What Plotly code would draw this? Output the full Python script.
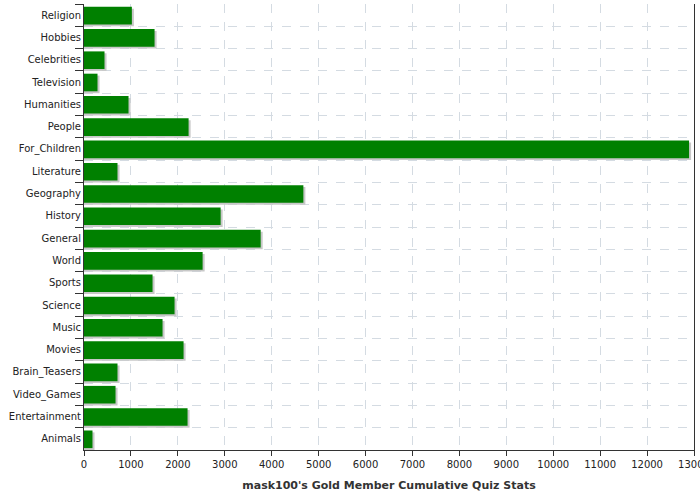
import plotly.graph_objects as go

categories = ["Religion", "Hobbies", "Celebrities", "Television", "Humanities", "People",
              "For_Children", "Literature", "Geography", "History", "General", "World",
              "Sports", "Science", "Music", "Movies", "Brain_Teasers", "Video_Games",
              "Entertainment", "Animals"]
values = [1020, 1504, 437, 288, 949, 2229, 12895, 714, 4675, 2912, 3765, 2528,
          1461, 1930, 1674, 2122, 714, 672, 2207, 181]
x_tickvals = list(range(0, 14000, 1000))
title_text = "mask100's Gold Member Cumulative Quiz Stats"

shadow_dx = 43  # ~2px horizontal shadow offset in data units

fig = go.Figure()
fig.add_trace(go.Bar(
    y=categories, x=[v + shadow_dx for v in values], orientation="h",
    marker=dict(color="#c8c8c8", line=dict(width=0)),
    offset=-0.29, width=0.79, hoverinfo="skip", showlegend=False,
))
fig.add_trace(go.Bar(
    y=categories, x=values, orientation="h",
    marker=dict(color="#008000", line=dict(width=0)),
    offset=-0.375, width=0.79, showlegend=False,
))

fig.update_layout(
    width=700, height=500,
    margin=dict(l=84, r=6, t=4, b=50),
    paper_bgcolor="white", plot_bgcolor="white",
    barmode="overlay",
    font=dict(family="DejaVu Sans", size=10, color="#222222"),
)
fig.update_xaxes(
    range=[0, 13000], tickvals=x_tickvals, ticktext=[str(v) for v in x_tickvals],
    automargin=False, ticklabeloverflow="allow",
    showgrid=True, gridcolor="#d4dbe2", griddash="dash", gridwidth=1,
    showline=True, linecolor="#333333", linewidth=1,
    ticks="outside", ticklen=5, tickcolor="#333333",
    zeroline=False,
    title=dict(text="<b>" + title_text + "</b>", font=dict(size=11, color="#333333"), standoff=12),
)
fig.update_yaxes(
    type="category", categoryorder="array", categoryarray=categories,
    autorange="reversed", tickson="boundaries", automargin=False,
    showgrid=True, gridcolor="#d4dbe2", griddash="dash", gridwidth=1,
    showline=True, linecolor="#333333", linewidth=1, mirror=True,
    ticks="outside", ticklen=8, tickcolor="#333333",
    zeroline=False,
)

fig.write_html("out.html", config={"displayModeBar": False},
               post_script="document.body.style.margin='0';document.body.style.overflow='hidden';")
